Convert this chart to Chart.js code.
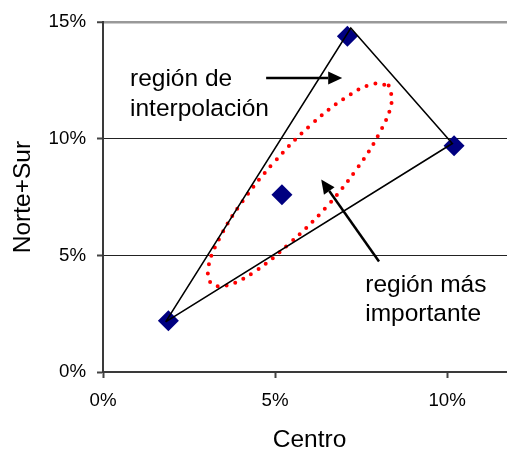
<!DOCTYPE html>
<html>
<head>
<meta charset="utf-8">
<script src="https://cdn.jsdelivr.net/npm/chart.js@4/dist/chart.umd.min.js"></script>
<style>
html,body{margin:0;padding:0;background:#fff;overflow:hidden;}
#wrap{width:520px;height:452px;}
</style>
</head>
<body>
<div id="wrap"><canvas id="c" width="520" height="452"></canvas></div>
<script>
// ---- data (percent units) ----
const pointsX = [1.9, 5.2, 7.1, 10.2];
const pointsY = [2.2, 7.6, 14.4, 9.7];

const triangleX = [1.82, 7.2, 10.15, 1.82];
const triangleY = [2.15, 14.75, 9.8, 2.15];

const ellipseX = [8.30, 8.39, 8.07, 7.40, 6.48, 5.43, 4.44, 3.64, 3.16, 3.06, 3.38, 4.05, 4.98, 6.02, 7.01, 7.81, 8.30];
const ellipseY = [12.29, 11.59, 10.35, 8.76, 7.06, 5.53, 4.34, 3.73, 3.78, 4.48, 5.72, 7.31, 9.01, 10.57, 11.73, 12.34, 12.29];

const xTicks = [0, 5, 10];
const yTicks = [0, 5, 10, 15];
const xTitle = 'Centro';
const yTitle = 'Norte+Sur';

const notes = [
  { lines: ['región de', 'interpolación'], x: 0.785, y: [12.26, 10.98] },
  { lines: ['región más', 'importante'], x: 7.62, y: [3.43, 2.19] }
];
const arrows = [
  { from: [4.74, 12.61], to: [6.95, 12.61] },
  { from: [8.02, 4.74], to: [6.34, 8.25] }
];

const toXY = (xs, ys) => xs.map((x, i) => ({ x: x, y: ys[i] }));

const FONT = "'Liberation Sans', Arial, sans-serif";

const annotPlugin = {
  id: 'annot',
  afterDatasetsDraw(chart) {
    const ctx = chart.ctx;
    const xs = chart.scales.x, ys = chart.scales.y;
    ctx.save();
    ctx.strokeStyle = '#000';
    ctx.fillStyle = '#000';
    ctx.lineWidth = 2.5;
    arrows.forEach(a => {
      const x1 = xs.getPixelForValue(a.from[0]), y1 = ys.getPixelForValue(a.from[1]);
      const x2 = xs.getPixelForValue(a.to[0]), y2 = ys.getPixelForValue(a.to[1]);
      const ang = Math.atan2(y2 - y1, x2 - x1);
      const hl = 14, hw = 6.5;
      const bx = x2 - hl * Math.cos(ang), by = y2 - hl * Math.sin(ang);
      ctx.beginPath();
      ctx.moveTo(x1, y1);
      ctx.lineTo(bx, by);
      ctx.stroke();
      ctx.beginPath();
      ctx.moveTo(x2, y2);
      ctx.lineTo(bx + hw * Math.sin(ang), by - hw * Math.cos(ang));
      ctx.lineTo(bx - hw * Math.sin(ang), by + hw * Math.cos(ang));
      ctx.closePath();
      ctx.fill();
    });
    ctx.font = "24.5px " + FONT;
    ctx.textAlign = 'left';
    ctx.textBaseline = 'alphabetic';
    notes.forEach(n => {
      n.lines.forEach((t, i) => {
        ctx.fillText(t, xs.getPixelForValue(n.x), ys.getPixelForValue(n.y[i]));
      });
    });
    ctx.restore();
  }
};

new Chart(document.getElementById('c'), {
  type: 'scatter',
  data: {
    datasets: [
      {
        label: 'triángulo',
        data: toXY(triangleX, triangleY),
        showLine: true,
        borderColor: '#000',
        borderWidth: 1.6,
        pointRadius: 0,
        fill: false,
        order: 0
      },
      {
        label: 'puntos',
        data: toXY(pointsX, pointsY),
        showLine: false,
        pointStyle: 'rectRot',
        pointRadius: 10.5,
        pointBackgroundColor: '#000080',
        pointBorderColor: '#000080',
        pointBorderWidth: 0,
        order: 1
      },
      {
        label: 'elipse',
        data: toXY(ellipseX, ellipseY),
        showLine: true,
        tension: 0.4,
        borderColor: '#ff0000',
        borderWidth: 4,
        borderCapStyle: 'round',
        borderDash: [0, 9],
        pointRadius: 0,
        fill: false,
        order: 2
      }
    ]
  },
  options: {
    responsive: false,
    animation: false,
    devicePixelRatio: 1,
    layout: { autoPadding: false, padding: { top: 21, left: 0, right: 4, bottom: 0 } },
    plugins: { legend: { display: false }, tooltip: { enabled: false } },
    scales: {
      x: {
        type: 'linear',
        min: 0, max: 12,
        afterFit: s => { s.height = 80; },
        afterBuildTicks: s => { s.ticks = xTicks.map(v => ({ value: v })); },
        ticks: {
          color: '#000',
          padding: 12,
          font: { family: FONT, size: 18.7, lineHeight: 1.2 },
          callback: v => v + '%'
        },
        grid: { drawOnChartArea: false, drawTicks: true, tickLength: 6, tickColor: '#444', tickWidth: 2 },
        border: { display: true, color: '#3a3a3a', width: 2 },
        title: {
          display: true, text: xTitle, color: '#000',
          font: { family: FONT, size: 24.5, lineHeight: 1 },
          padding: { top: 0, bottom: 0 }
        }
      },
      y: {
        type: 'linear',
        min: 0, max: 15,
        afterFit: s => { s.width = 103; },
        afterBuildTicks: s => { s.ticks = yTicks.map(v => ({ value: v })); },
        ticks: {
          color: '#000',
          padding: 11,
          font: { family: FONT, size: 18.7, lineHeight: 1.2 },
          callback: v => v + '%'
        },
        grid: {
          drawOnChartArea: true, drawTicks: true, tickLength: 6,
          color: c => (c.tick && c.tick.value === 15) ? '#999' : (c.tick && c.tick.value === 0 ? 'rgba(0,0,0,0)' : '#222'),
          lineWidth: c => (c.tick && c.tick.value === 15) ? 2.5 : 1,
          tickColor: '#444', tickWidth: 2
        },
        border: { display: true, color: '#3a3a3a', width: 2 },
        title: {
          display: true, text: yTitle, color: '#000',
          font: { family: FONT, size: 24.5, lineHeight: 1 },
          padding: { top: 11, bottom: 0 }
        }
      }
    }
  },
  plugins: [annotPlugin]
});
</script>
</body>
</html>
